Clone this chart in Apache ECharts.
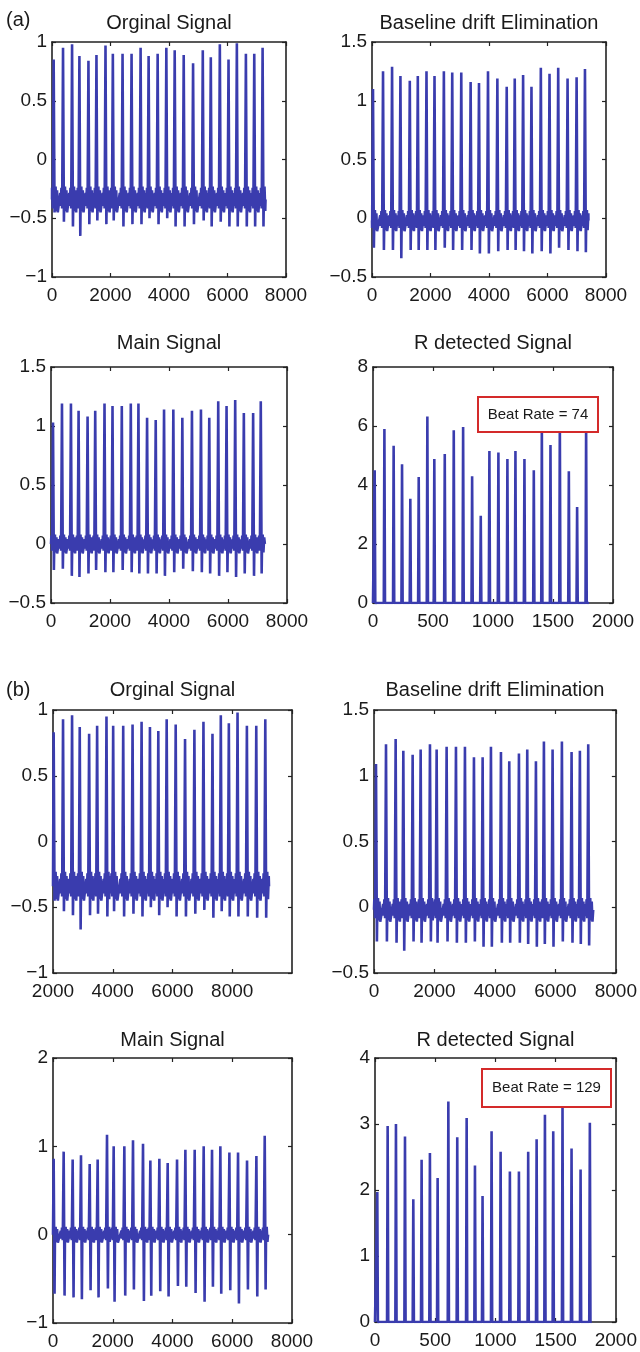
<!DOCTYPE html>
<html>
<head>
<meta charset="utf-8">
<title>ECG R detection</title>
<script src="https://cdn.jsdelivr.net/npm/echarts@6.0.0/dist/echarts.min.js"></script>
<style>
    html, body { margin: 0; padding: 0; background: #fff; }
    #main { width: 640px; height: 1352px; }
</style>
</head>
<body>
<div id="main"></div>
<script>
var lineColor = '#3a3cae';
var textColor = '#1a1a1a';
var fontName = '"Liberation Sans", Arial, Helvetica, sans-serif';

//baseline ripple around each beat (offset from R peak, relative level)
var rippleDx = [-95, -75, -55, -30, 45, 65, 90, 115, 140];
var rippleLvl = [0.5, -0.5, 0.9, -0.7, 0.5, 1.0, -0.9, 0.7, -1.0];

//(a) Orginal Signal
var a1BeatX = [57, 377, 686, 937, 1246, 1520, 1829, 2080, 2412, 2720, 3029, 3303, 3612, 3909, 4195, 4503, 4823, 5155, 5429, 5738, 6035, 6320, 6629, 6915, 7200];
var a1Peak = [0.85, 0.95, 0.98, 0.88, 0.84, 0.89, 0.97, 0.90, 0.90, 0.90, 0.95, 0.88, 0.90, 0.95, 0.93, 0.89, 0.82, 0.93, 0.87, 0.98, 0.85, 0.99, 0.90, 0.90, 0.95];
var a1Trough = [-0.45, -0.53, -0.57, -0.65, -0.55, -0.52, -0.55, -0.52, -0.57, -0.55, -0.55, -0.50, -0.55, -0.50, -0.57, -0.57, -0.55, -0.52, -0.57, -0.53, -0.57, -0.57, -0.57, -0.57, -0.57];

//(a) Baseline drift Elimination
var a2BeatX = [34, 377, 686, 972, 1292, 1566, 1863, 2137, 2457, 2743, 3052, 3372, 3658, 3966, 4286, 4606, 4880, 5166, 5452, 5772, 6069, 6366, 6686, 6995, 7281];
var a2Peak = [1.10, 1.25, 1.29, 1.21, 1.17, 1.21, 1.25, 1.21, 1.25, 1.24, 1.24, 1.16, 1.15, 1.25, 1.19, 1.12, 1.19, 1.22, 1.12, 1.28, 1.23, 1.28, 1.19, 1.20, 1.27];
var a2Trough = [-0.25, -0.27, -0.27, -0.34, -0.27, -0.27, -0.27, -0.27, -0.25, -0.27, -0.27, -0.27, -0.30, -0.30, -0.28, -0.27, -0.27, -0.28, -0.30, -0.28, -0.30, -0.25, -0.27, -0.28, -0.29];

//(a) Main Signal
var a3BeatX = [68, 372, 676, 935, 1240, 1499, 1814, 2085, 2400, 2705, 2964, 3257, 3550, 3832, 4147, 4452, 4778, 5083, 5365, 5669, 5951, 6244, 6537, 6852, 7111];
var a3Peak = [1.03, 1.19, 1.19, 1.13, 1.08, 1.13, 1.19, 1.17, 1.17, 1.19, 1.19, 1.07, 1.05, 1.14, 1.14, 1.07, 1.13, 1.14, 1.07, 1.21, 1.17, 1.22, 1.11, 1.11, 1.21];
var a3Trough = [-0.22, -0.21, -0.27, -0.28, -0.25, -0.22, -0.24, -0.24, -0.22, -0.24, -0.25, -0.25, -0.25, -0.27, -0.24, -0.21, -0.23, -0.24, -0.25, -0.27, -0.24, -0.28, -0.25, -0.27, -0.25];

//(a) R detected Signal
var a4BeatX = [14, 95, 172, 242, 311, 381, 453, 511, 598, 673, 751, 826, 898, 970, 1045, 1120, 1187, 1262, 1340, 1407, 1479, 1557, 1632, 1701, 1776];
var a4Peak = [4.5, 5.9, 5.33, 4.7, 3.53, 4.27, 6.32, 4.88, 5.05, 5.86, 5.97, 4.3, 2.96, 5.15, 5.1, 4.88, 5.15, 4.88, 4.5, 6.1, 5.36, 6.2, 4.47, 3.25, 6.1];

//(b) Orginal Signal
var b1BeatX = [2022, 2336, 2638, 2895, 3209, 3477, 3790, 4014, 4350, 4663, 4965, 5245, 5525, 5805, 6107, 6420, 6733, 7036, 7338, 7617, 7886, 8177, 8490, 8804, 9106];
var b1Peak = [0.83, 0.93, 0.96, 0.87, 0.82, 0.88, 0.95, 0.88, 0.88, 0.89, 0.91, 0.87, 0.84, 0.93, 0.89, 0.78, 0.85, 0.91, 0.82, 0.96, 0.90, 0.98, 0.88, 0.88, 0.93];
var b1Trough = [-0.45, -0.53, -0.56, -0.67, -0.56, -0.55, -0.57, -0.53, -0.57, -0.55, -0.57, -0.50, -0.56, -0.50, -0.57, -0.57, -0.55, -0.52, -0.58, -0.53, -0.57, -0.57, -0.57, -0.58, -0.58];

//(b) Baseline drift Elimination
var b2BeatX = [66, 397, 716, 970, 1278, 1543, 1851, 2072, 2402, 2711, 3008, 3306, 3593, 3868, 4199, 4474, 4794, 5069, 5356, 5620, 5907, 6215, 6535, 6810, 7086];
var b2Peak = [1.09, 1.24, 1.28, 1.19, 1.16, 1.20, 1.24, 1.20, 1.22, 1.22, 1.22, 1.14, 1.14, 1.22, 1.18, 1.11, 1.17, 1.20, 1.11, 1.26, 1.20, 1.26, 1.18, 1.19, 1.24];
var b2Trough = [-0.26, -0.26, -0.27, -0.33, -0.26, -0.27, -0.26, -0.27, -0.26, -0.27, -0.27, -0.26, -0.30, -0.30, -0.27, -0.27, -0.27, -0.28, -0.30, -0.28, -0.30, -0.26, -0.27, -0.28, -0.29];

//(b) Main Signal
var b3BeatX = [22, 357, 658, 937, 1228, 1495, 1808, 2031, 2388, 2678, 3013, 3259, 3560, 3839, 4152, 4431, 4743, 5044, 5323, 5602, 5904, 6194, 6495, 6808, 7087];
var b3Peak = [0.86, 0.94, 0.85, 0.90, 0.80, 0.85, 1.13, 1.00, 1.00, 1.07, 1.03, 0.84, 0.86, 0.81, 0.85, 0.96, 0.96, 1.00, 0.96, 1.00, 0.93, 0.93, 0.84, 0.89, 1.12];
var b3Trough = [-0.67, -0.69, -0.71, -0.73, -0.63, -0.71, -0.61, -0.76, -0.69, -0.62, -0.75, -0.69, -0.64, -0.70, -0.58, -0.59, -0.66, -0.76, -0.59, -0.67, -0.63, -0.78, -0.62, -0.70, -0.62];

//(b) R detected Signal
var b4BeatX = [19, 105, 174, 249, 318, 387, 456, 520, 609, 683, 761, 830, 893, 968, 1043, 1120, 1195, 1272, 1342, 1411, 1480, 1557, 1632, 1707, 1784];
var b4Peak = [1.97, 2.97, 3.0, 2.81, 1.86, 2.46, 2.56, 2.18, 3.34, 2.8, 3.09, 2.37, 1.91, 2.89, 2.58, 2.28, 2.28, 2.58, 2.77, 3.14, 2.89, 3.3, 2.63, 2.31, 3.02];

var beatRateA = 74;
var beatRateB = 129;

//ECG trace: ripple before beat, R peak, S trough, ripple after
function buildEcg(beatX, peak, trough, base, ripple, startX, endX) {
    var pts = [[startX, base]];
    for (var i = 0; i < beatX.length; i++) {
        var x = beatX[i];
        var nextX = i < beatX.length - 1 ? beatX[i + 1] : endX + 1000;
        var k;
        for (k = 0; k < rippleDx.length; k++) {
            if (rippleDx[k] > 0) continue;
            pts.push([x + rippleDx[k], base + ripple * rippleLvl[k]]);
        }
        pts.push([x, peak[i]]);
        pts.push([x + 30, trough[i]]);
        for (k = 0; k < rippleDx.length; k++) {
            if (rippleDx[k] < 0) continue;
            if (x + rippleDx[k] > nextX - 100) continue;
            pts.push([x + rippleDx[k], base + ripple * rippleLvl[k]]);
        }
    }
    pts.push([endX, base]);
    return pts.filter(function (p) { return p[0] >= startX && p[0] <= endX; });
}

//detected R pulses on a zero line
function buildPulses(beatX, peak, endX) {
    var pts = [[0, 0]];
    for (var i = 0; i < beatX.length; i++) {
        pts.push([beatX[i] - 5, 0]);
        pts.push([beatX[i], peak[i]]);
        pts.push([beatX[i] + 5, 0]);
    }
    pts.push([endX, 0]);
    return pts;
}

var grids = [];
var xAxes = [];
var yAxes = [];
var series = [];
var graphics = [];

function minusFmt(v) {
    return String(v).replace('-', '\u2212');
}

function makeAxis(pos, gridIndex, range, withLabel, hideMax) {
    return {
        type: 'value',
        gridIndex: gridIndex,
        position: pos,
        min: range[0],
        max: range[1],
        interval: range[2],
        axisLine: { show: true, onZero: false, lineStyle: { color: '#222', width: 1.6 } },
        axisTick: { show: true, inside: true, length: 4, lineStyle: { color: '#222', width: 1.2 } },
        splitLine: { show: false },
        axisLabel: {
            show: withLabel,
            showMaxLabel: !hideMax,
            color: textColor,
            fontFamily: fontName,
            fontSize: 19,
            margin: (pos == 'left') ? 5 : 9,
            formatter: minusFmt
        }
    };
}

function addPanel(title, box, xr, yr, data, titleY, hideMaxX) {
    var idx = grids.length;
    grids.push({ left: box[0], top: box[1], width: box[2], height: box[3], show: true, borderWidth: 0, backgroundColor: '#fff' });
    xAxes.push(makeAxis('bottom', idx, xr, true, hideMaxX));
    xAxes.push(makeAxis('top', idx, xr, false));
    yAxes.push(makeAxis('left', idx, yr, true));
    yAxes.push(makeAxis('right', idx, yr, false));
    series.push({
        type: 'line',
        xAxisIndex: idx * 2,
        yAxisIndex: idx * 2,
        data: data,
        showSymbol: false,
        clip: true,
        lineStyle: { color: lineColor, width: 2.6 },
        animation: false
    });
    graphics.push({
        type: 'text', z: 100,
        style: {
            text: title, x: box[0] + box[2] / 2, y: titleY,
            align: 'center', verticalAlign: 'middle', textAlign: 'center', textVerticalAlign: 'middle',
            fill: textColor, font: '20px ' + fontName
        }
    });
}

function addRateBox(label, x, y, w, h) {
    graphics.push({
        type: 'rect', z: 100,
        shape: { x: x, y: y, width: w, height: h },
        style: { fill: '#fff', stroke: '#d42a2a', lineWidth: 2 }
    });
    graphics.push({
        type: 'text', z: 101,
        style: {
            text: label, x: x + w / 2, y: y + h / 2,
            align: 'center', verticalAlign: 'middle', textAlign: 'center', textVerticalAlign: 'middle',
            fill: textColor, font: '15px ' + fontName
        }
    });
}

function addTag(label, x, y) {
    graphics.push({
        type: 'text', z: 100,
        style: {
            text: label, x: x, y: y,
            align: 'left', verticalAlign: 'middle', textAlign: 'left', textVerticalAlign: 'middle',
            fill: textColor, font: '20px ' + fontName
        }
    });
}

addPanel('Orginal Signal', [52, 42, 234, 235], [0, 8000, 2000], [-1, 1, 0.5],
    buildEcg(a1BeatX, a1Peak, a1Trough, -0.34, 0.11, 0, 7300), 23);
addPanel('Baseline drift Elimination', [372, 42, 234, 235], [0, 8000, 2000], [-0.5, 1.5, 0.5],
    buildEcg(a2BeatX, a2Peak, a2Trough, -0.02, 0.09, 0, 7400), 23);
addPanel('Main Signal', [51, 367, 236, 236], [0, 8000, 2000], [-0.5, 1.5, 0.5],
    buildEcg(a3BeatX, a3Peak, a3Trough, 0, 0.08, 0, 7250), 343);
addPanel('R detected Signal', [373, 367, 240, 236], [0, 2000, 500], [0, 8, 2],
    buildPulses(a4BeatX, a4Peak, 1800), 343);
addPanel('Orginal Signal', [53, 710, 239, 263], [2000, 10000, 2000], [-1, 1, 0.5],
    buildEcg(b1BeatX, b1Peak, b1Trough, -0.34, 0.11, 2000, 9230), 690, true);
addPanel('Baseline drift Elimination', [374, 710, 242, 263], [0, 8000, 2000], [-0.5, 1.5, 0.5],
    buildEcg(b2BeatX, b2Peak, b2Trough, -0.02, 0.09, 0, 7250), 690);
addPanel('Main Signal', [53, 1058, 239, 265], [0, 8000, 2000], [-1, 2, 1],
    buildEcg(b3BeatX, b3Peak, b3Trough, 0, 0.09, 0, 7200), 1040);
addPanel('R detected Signal', [375, 1058, 241, 264], [0, 2000, 500], [0, 4, 1],
    buildPulses(b4BeatX, b4Peak, 1800), 1040);

addRateBox('Beat Rate = ' + beatRateA, 478, 397, 120, 35);
addRateBox('Beat Rate = ' + beatRateB, 482, 1069, 129, 38);
addTag('(a)', 6, 20);
addTag('(b)', 6, 690);

var myChart = echarts.init(document.getElementById('main'), null, { renderer: 'canvas' });
myChart.setOption({
    backgroundColor: '#fff',
    animation: false,
    grid: grids,
    xAxis: xAxes,
    yAxis: yAxes,
    series: series,
    graphic: graphics
});
</script>
</body>
</html>
